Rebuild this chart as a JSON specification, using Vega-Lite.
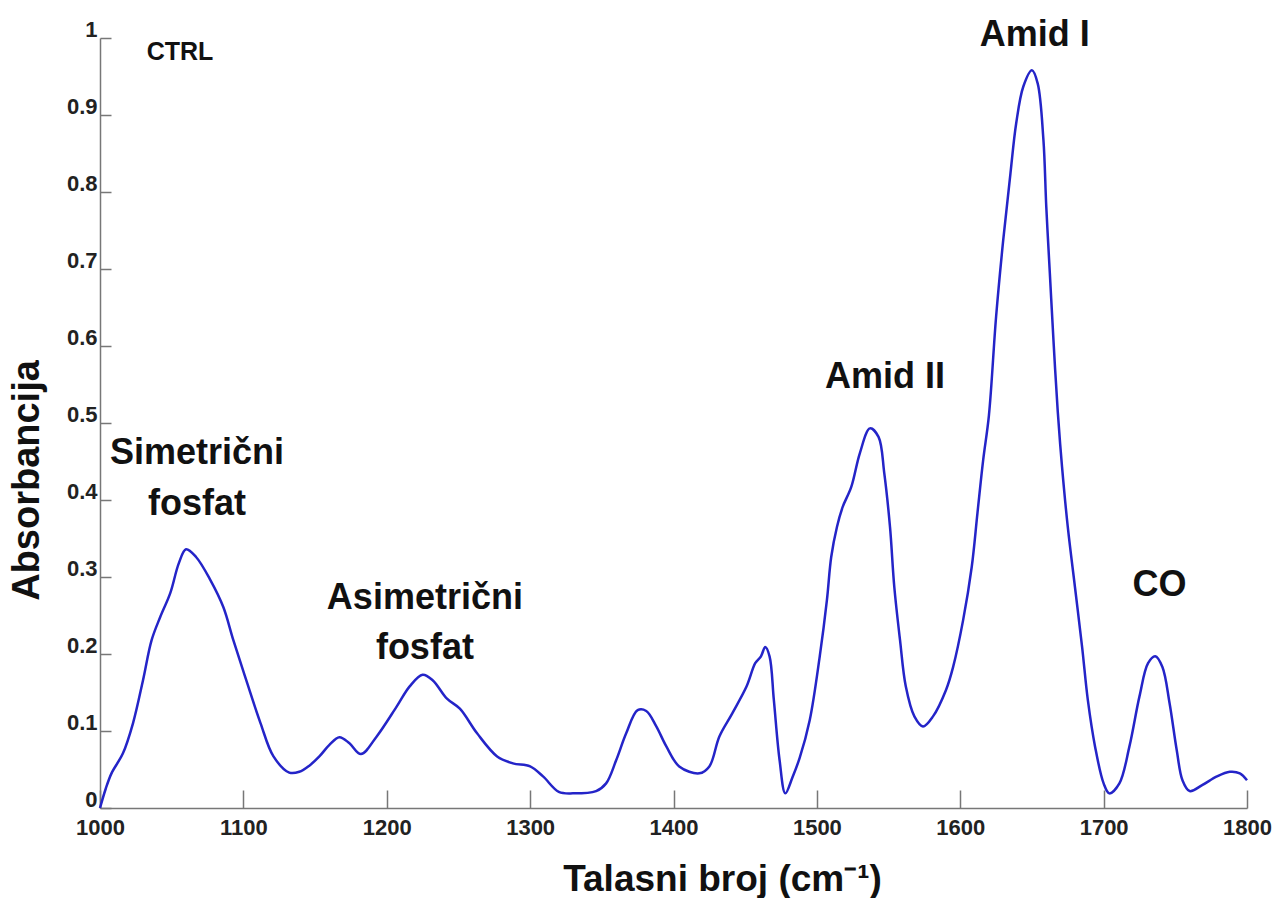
{
  "$schema": "https://vega.github.io/schema/vega-lite/v6.json",
  "width": 1147,
  "height": 770,
  "autosize": {"type": "none"},
  "padding": {"left": 100, "top": 38, "right": 31, "bottom": 90},
  "background": "white",
  "config": {
    "view": {"stroke": null},
    "font": "Liberation Sans",
    "axis": {
      "grid": false,
      "domainColor": "#777777",
      "domainWidth": 1.5,
      "tickColor": "#777777",
      "tickWidth": 1.5,
      "labelFont": "Liberation Sans",
      "labelFontWeight": "bold",
      "labelColor": "#222222",
      "labelFlush": false,
      "titleFont": "Liberation Sans",
      "titleFontWeight": "bold",
      "titleColor": "#111111"
    }
  },
  "datasets": {
    "spectrum": [
      {"wavenumber": 1000, "absorbance": 0.0},
      {"wavenumber": 1004, "absorbance": 0.025},
      {"wavenumber": 1008, "absorbance": 0.045},
      {"wavenumber": 1016, "absorbance": 0.071},
      {"wavenumber": 1023, "absorbance": 0.11},
      {"wavenumber": 1030, "absorbance": 0.166},
      {"wavenumber": 1036, "absorbance": 0.218},
      {"wavenumber": 1042, "absorbance": 0.248},
      {"wavenumber": 1049, "absorbance": 0.279},
      {"wavenumber": 1055, "absorbance": 0.318},
      {"wavenumber": 1060, "absorbance": 0.336},
      {"wavenumber": 1067, "absorbance": 0.326},
      {"wavenumber": 1077, "absorbance": 0.296},
      {"wavenumber": 1086, "absorbance": 0.261},
      {"wavenumber": 1093, "absorbance": 0.218},
      {"wavenumber": 1102, "absorbance": 0.166},
      {"wavenumber": 1112, "absorbance": 0.11},
      {"wavenumber": 1121, "absorbance": 0.067},
      {"wavenumber": 1132, "absorbance": 0.046},
      {"wavenumber": 1139, "absorbance": 0.047},
      {"wavenumber": 1146, "absorbance": 0.055},
      {"wavenumber": 1153, "absorbance": 0.067},
      {"wavenumber": 1160, "absorbance": 0.082},
      {"wavenumber": 1167, "absorbance": 0.092},
      {"wavenumber": 1174, "absorbance": 0.084},
      {"wavenumber": 1182, "absorbance": 0.07},
      {"wavenumber": 1193, "absorbance": 0.093},
      {"wavenumber": 1207, "absorbance": 0.132},
      {"wavenumber": 1216, "absorbance": 0.158},
      {"wavenumber": 1225, "absorbance": 0.173},
      {"wavenumber": 1232, "absorbance": 0.166},
      {"wavenumber": 1242, "absorbance": 0.142},
      {"wavenumber": 1251, "absorbance": 0.129},
      {"wavenumber": 1263, "absorbance": 0.097},
      {"wavenumber": 1277, "absorbance": 0.067},
      {"wavenumber": 1288, "absorbance": 0.058},
      {"wavenumber": 1300, "absorbance": 0.054},
      {"wavenumber": 1309, "absorbance": 0.041},
      {"wavenumber": 1320, "absorbance": 0.021},
      {"wavenumber": 1330, "absorbance": 0.019},
      {"wavenumber": 1346, "absorbance": 0.022},
      {"wavenumber": 1353, "absorbance": 0.032},
      {"wavenumber": 1360, "absorbance": 0.062},
      {"wavenumber": 1367, "absorbance": 0.097},
      {"wavenumber": 1375, "absorbance": 0.127},
      {"wavenumber": 1381, "absorbance": 0.126},
      {"wavenumber": 1388, "absorbance": 0.106},
      {"wavenumber": 1395, "absorbance": 0.08},
      {"wavenumber": 1404, "absorbance": 0.054},
      {"wavenumber": 1418, "absorbance": 0.045},
      {"wavenumber": 1425, "absorbance": 0.054},
      {"wavenumber": 1432, "absorbance": 0.093},
      {"wavenumber": 1441, "absorbance": 0.123},
      {"wavenumber": 1451, "absorbance": 0.158},
      {"wavenumber": 1457, "absorbance": 0.188},
      {"wavenumber": 1461, "absorbance": 0.197},
      {"wavenumber": 1464, "absorbance": 0.209},
      {"wavenumber": 1467, "absorbance": 0.197},
      {"wavenumber": 1470, "absorbance": 0.14},
      {"wavenumber": 1474, "absorbance": 0.062},
      {"wavenumber": 1478, "absorbance": 0.019},
      {"wavenumber": 1483, "absorbance": 0.04},
      {"wavenumber": 1488, "absorbance": 0.065},
      {"wavenumber": 1495, "absorbance": 0.114},
      {"wavenumber": 1502, "absorbance": 0.197},
      {"wavenumber": 1507, "absorbance": 0.27},
      {"wavenumber": 1510, "absorbance": 0.326},
      {"wavenumber": 1514, "absorbance": 0.365},
      {"wavenumber": 1518, "absorbance": 0.391},
      {"wavenumber": 1524, "absorbance": 0.417},
      {"wavenumber": 1530, "absorbance": 0.461},
      {"wavenumber": 1537, "absorbance": 0.493},
      {"wavenumber": 1543, "absorbance": 0.482},
      {"wavenumber": 1547, "absorbance": 0.435},
      {"wavenumber": 1551, "absorbance": 0.365},
      {"wavenumber": 1554, "absorbance": 0.287},
      {"wavenumber": 1558, "absorbance": 0.218},
      {"wavenumber": 1562, "absorbance": 0.158},
      {"wavenumber": 1568, "absorbance": 0.119},
      {"wavenumber": 1574, "absorbance": 0.106},
      {"wavenumber": 1581, "absorbance": 0.119},
      {"wavenumber": 1590, "absorbance": 0.153},
      {"wavenumber": 1595, "absorbance": 0.183},
      {"wavenumber": 1602, "absorbance": 0.244},
      {"wavenumber": 1608, "absorbance": 0.313},
      {"wavenumber": 1612, "absorbance": 0.383},
      {"wavenumber": 1616, "absorbance": 0.452},
      {"wavenumber": 1620, "absorbance": 0.51},
      {"wavenumber": 1625, "absorbance": 0.638},
      {"wavenumber": 1630, "absorbance": 0.738},
      {"wavenumber": 1635, "absorbance": 0.824},
      {"wavenumber": 1639, "absorbance": 0.889},
      {"wavenumber": 1644, "absorbance": 0.937},
      {"wavenumber": 1650, "absorbance": 0.958},
      {"wavenumber": 1654, "absorbance": 0.941},
      {"wavenumber": 1658, "absorbance": 0.868},
      {"wavenumber": 1660, "absorbance": 0.781},
      {"wavenumber": 1662.5, "absorbance": 0.694},
      {"wavenumber": 1665, "absorbance": 0.608},
      {"wavenumber": 1668, "absorbance": 0.515},
      {"wavenumber": 1671, "absorbance": 0.443},
      {"wavenumber": 1675, "absorbance": 0.365},
      {"wavenumber": 1680, "absorbance": 0.287},
      {"wavenumber": 1685, "absorbance": 0.209},
      {"wavenumber": 1689, "absorbance": 0.14},
      {"wavenumber": 1694, "absorbance": 0.08},
      {"wavenumber": 1700, "absorbance": 0.032},
      {"wavenumber": 1704, "absorbance": 0.019},
      {"wavenumber": 1711, "absorbance": 0.032},
      {"wavenumber": 1718, "absorbance": 0.08},
      {"wavenumber": 1725, "absorbance": 0.145},
      {"wavenumber": 1731, "absorbance": 0.188},
      {"wavenumber": 1736, "absorbance": 0.197},
      {"wavenumber": 1741, "absorbance": 0.183},
      {"wavenumber": 1746, "absorbance": 0.136},
      {"wavenumber": 1751, "absorbance": 0.075},
      {"wavenumber": 1755, "absorbance": 0.036},
      {"wavenumber": 1760, "absorbance": 0.022},
      {"wavenumber": 1769, "absorbance": 0.03},
      {"wavenumber": 1779, "absorbance": 0.041},
      {"wavenumber": 1788, "absorbance": 0.047},
      {"wavenumber": 1795, "absorbance": 0.045},
      {"wavenumber": 1800, "absorbance": 0.036}
    ],
    "bands": [
      {"wavenumber": 1652, "absorbance": 1.004, "name": "Amid I"},
      {"wavenumber": 1547.5, "absorbance": 0.56, "name": "Amid II"},
      {"wavenumber": 1067.6, "absorbance": 0.461, "name": "Simetrični"},
      {"wavenumber": 1067.6, "absorbance": 0.3948, "name": "fosfat"},
      {"wavenumber": 1226.6, "absorbance": 0.2727, "name": "Asimetrični"},
      {"wavenumber": 1226.6, "absorbance": 0.2078, "name": "fosfat"},
      {"wavenumber": 1739, "absorbance": 0.2896, "name": "CO"}
    ],
    "sample": [
      {"wavenumber": 1055.8, "absorbance": 0.9818, "name": "CTRL"}
    ]
  },
  "layer": [
    {
      "data": {"name": "spectrum"},
      "mark": {"type": "line", "color": "#2424c8", "strokeWidth": 2.5, "interpolate": "catmull-rom"},
      "encoding": {
        "x": {
          "field": "wavenumber",
          "type": "quantitative",
          "scale": {"domain": [1000, 1800], "nice": false, "zero": false},
          "axis": {
            "values": [1000, 1100, 1200, 1300, 1400, 1500, 1600, 1700, 1800],
            "format": "d",
            "labelFontSize": 22,
            "labelBaseline": "top",
            "tickSize": -18,
            "labelPadding": 27,
            "title": "Talasni broj (cm⁻¹)",
            "titleFontSize": 37,
            "titleAlign": "center",
            "titleBaseline": "alphabetic",
            "titleX": 622,
            "titleY": 82
          }
        },
        "y": {
          "field": "absorbance",
          "type": "quantitative",
          "scale": {"domain": [0, 1], "nice": false},
          "axis": {
            "values": [0, 0.1, 0.2, 0.3, 0.4, 0.5, 0.6, 0.7, 0.8, 0.9, 1],
            "format": "~g",
            "labelFontSize": 22,
            "labelOffset": -9,
            "tickSize": -11,
            "labelPadding": 14,
            "title": "Absorbancija",
            "titleFontSize": 38,
            "titleAngle": -90,
            "titleAlign": "center",
            "titleBaseline": "alphabetic",
            "titleX": -62,
            "titleY": 442
          }
        }
      }
    },
    {
      "data": {"name": "bands"},
      "mark": {"type": "text", "font": "Liberation Sans", "fontWeight": "bold", "fontSize": 36, "color": "#111111", "align": "center", "baseline": "middle"},
      "encoding": {
        "x": {"field": "wavenumber", "type": "quantitative"},
        "y": {"field": "absorbance", "type": "quantitative"},
        "text": {"field": "name"}
      }
    },
    {
      "data": {"name": "sample"},
      "mark": {"type": "text", "font": "Liberation Sans", "fontWeight": "bold", "fontSize": 25, "color": "#111111", "align": "center", "baseline": "middle"},
      "encoding": {
        "x": {"field": "wavenumber", "type": "quantitative"},
        "y": {"field": "absorbance", "type": "quantitative"},
        "text": {"field": "name"}
      }
    }
  ]
}
